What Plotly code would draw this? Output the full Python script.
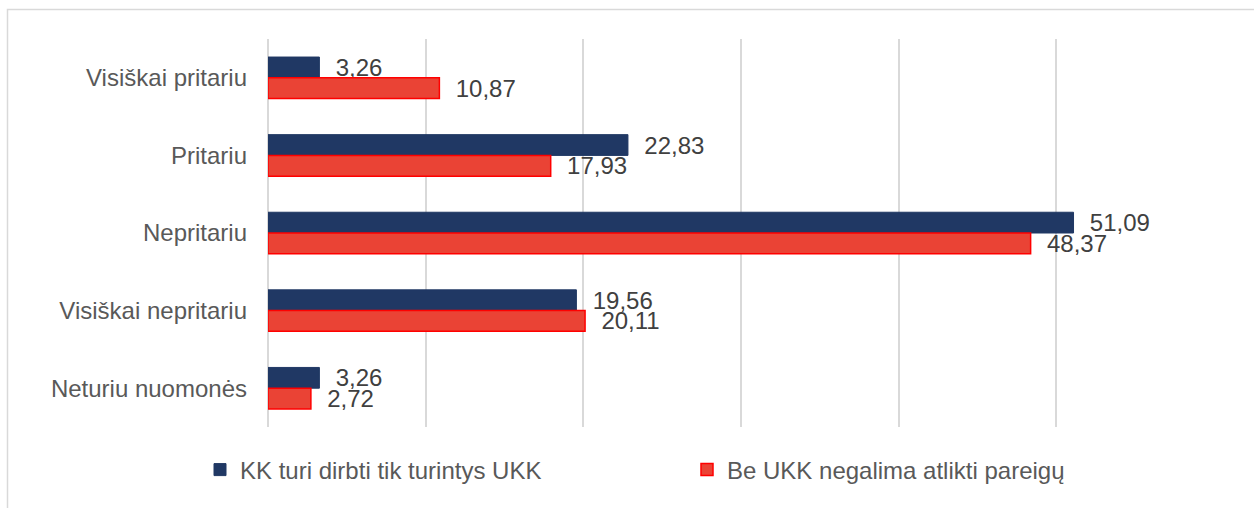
import plotly.graph_objects as go

categories = ["Visiškai pritariu", "Pritariu", "Nepritariu", "Visiškai nepritariu", "Neturiu nuomonės"]
series_names = ["KK turi dirbti tik turintys UKK", "Be UKK negalima atlikti pareigų"]
kk_values = [3.26, 22.83, 51.09, 19.56, 3.26]
be_values = [10.87, 17.93, 48.37, 20.11, 2.72]

W, H = 1254, 508
ML, MR, MT, MB = 268, 40, 39, 81
PW, PH = W - ML - MR, H - MT - MB

def px_x(p):
    return (p - ML) / PW

def px_y(p):
    return (H - MB - p) / PH

font_family = "Liberation Sans, Arial, sans-serif"

fig = go.Figure()
fig.add_trace(go.Bar(
    y=categories, x=kk_values, name=series_names[0], orientation="h",
    marker=dict(color="#203864", line=dict(color="#203864", width=1)),
    texttemplate="\u00a0\u00a0%{x:.2f}", textposition="outside",
    textfont=dict(size=24, color="#404040", family=font_family),
    constraintext="none", cliponaxis=False,
))
fig.add_trace(go.Bar(
    y=categories, x=be_values, name=series_names[1], orientation="h",
    marker=dict(color="#EA4335", line=dict(color="#FF0000", width=1.5)),
    texttemplate="\u00a0\u00a0%{x:.2f}", textposition="outside",
    textfont=dict(size=24, color="#404040", family=font_family),
    constraintext="none", cliponaxis=False,
))

fig.update_layout(
    width=W, height=H,
    margin=dict(l=ML, r=MR, t=MT, b=MB, pad=0),
    paper_bgcolor="white", plot_bgcolor="white",
    separators=", ",
    barmode="group", bargap=0.465, bargroupgap=0,
    font=dict(family=font_family, size=24, color="#595959"),
    showlegend=True,
    legend=dict(
        orientation="h", traceorder="normal",
        x=px_x(200), xanchor="left",
        y=px_y(470), yanchor="middle",
        font=dict(size=24, color="#595959", family=font_family),
        entrywidth=442, entrywidthmode="pixels",
        bgcolor="rgba(0,0,0,0)",
    ),
    xaxis=dict(
        range=[0, 60], dtick=10, showticklabels=False,
        showgrid=True, gridcolor="#D9D9D9", gridwidth=1.5,
        zeroline=True, zerolinecolor="#D9D9D9", zerolinewidth=1.5,
        showline=False, fixedrange=True,
    ),
    yaxis=dict(
        autorange="reversed", showgrid=False, showline=False,
        ticks="", ticklabelstandoff=20,
        tickfont=dict(size=24, color="#595959", family=font_family),
        fixedrange=True,
    ),
    shapes=[dict(
        type="rect", xref="paper", yref="paper",
        x0=px_x(7.5), x1=px_x(1270), y0=px_y(9.5), y1=px_y(520),
        line=dict(color="#D9D9D9", width=1.5), fillcolor="rgba(0,0,0,0)",
        layer="below",
    )],
)

fig.write_html("out.html")
